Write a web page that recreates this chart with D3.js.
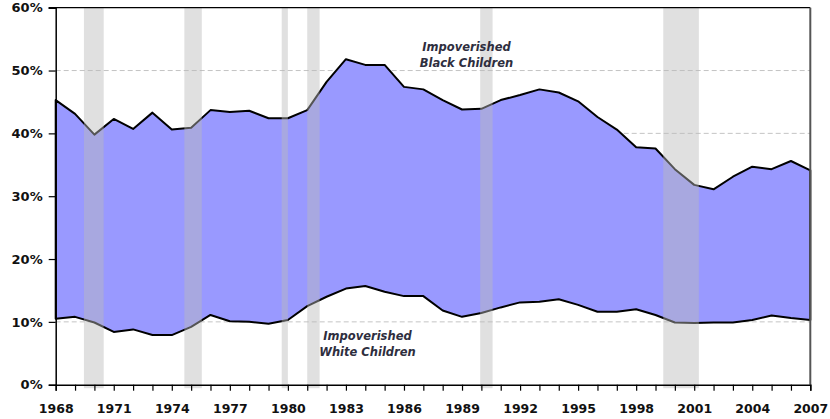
<!DOCTYPE html>
<html>
<head>
<meta charset="utf-8">
<script src="https://cdn.jsdelivr.net/npm/d3@7"></script>
<style>
  body { margin: 0; background: #fff; }
  svg { display: block; }
</style>
</head>
<body>
<svg id="chart"></svg>
<script>

// poverty rate of children by race, percent
var years = [1968, 1969, 1970, 1971, 1972, 1973, 1974, 1975, 1976, 1977,
             1978, 1979, 1980, 1981, 1982, 1983, 1984, 1985, 1986, 1987,
             1988, 1989, 1990, 1991, 1992, 1993, 1994, 1995, 1996, 1997,
             1998, 1999, 2000, 2001, 2002, 2003, 2004, 2005, 2006, 2007]

var blackKids = [45.3, 43.1, 39.8, 42.3, 40.7, 43.3, 40.6, 40.9, 43.7, 43.4,
                 43.6, 42.4, 42.4, 43.7, 48.2, 51.8, 50.9, 50.9, 47.4, 47.0,
                 45.3, 43.8, 43.9, 45.3, 46.1, 47.0, 46.5, 45.1, 42.6, 40.6,
                 37.8, 37.6, 34.3, 31.8, 31.1, 33.1, 34.7, 34.3, 35.6, 34.1]

var whiteKids = [10.5, 10.8, 9.9, 8.4, 8.8, 7.9, 7.9, 9.2, 11.1, 10.1,
                 10.0, 9.7, 10.3, 12.5, 14.0, 15.3, 15.7, 14.8, 14.1, 14.1,
                 11.8, 10.8, 11.4, 12.3, 13.1, 13.2, 13.6, 12.7, 11.6, 11.6,
                 12.0, 11.1, 9.9, 9.8, 9.9, 9.9, 10.3, 11.0, 10.6, 10.3]

// recession shading, start / end as fractional years
var recessions = [[1969.46, 1970.48], [1974.65, 1975.55], [1979.68, 1980.0],
                  [1981.0, 1981.64], [1989.94, 1990.58], [1999.4, 2001.24]]

var yTicks = [0, 10, 20, 30, 40, 50, 60]
var yearLabels = [1968, 1971, 1974, 1977, 1980, 1983, 1986, 1989, 1992, 1995, 1998, 2001, 2004, 2007]


function drawChart(){

    let width = 830
    let height = 419
    let margin = {top: 7.7, right: 19.7, bottom: 34.3, left: 55.7}

    const svg = d3.select('#chart')
        .attr("width", width)
        .attr("height", height)
        .style("font-family", "'DejaVu Sans', Verdana, sans-serif")

    const x = d3.scaleLinear()
        .domain([1968, 2007])
        .range([margin.left, width - margin.right])

    const y = d3.scaleLinear()
        .domain([0, 60])
        .range([height - margin.bottom, margin.top])

    const rows = years.map((yr, i) => ({year: yr, lo: whiteKids[i], hi: blackKids[i]}))

    // dashed grid
    svg.append("g")
        .selectAll("line")
        .data(yTicks.filter(t => t > 0 && t < 60))
        .enter()
        .append("line")
        .attr("x1", x.range()[0])
        .attr("x2", x.range()[1])
        .attr("y1", d => y(d))
        .attr("y2", d => y(d))
        .attr("stroke", "#c4c4c4")
        .attr("stroke-width", 1)
        .attr("stroke-dasharray", "5,3")

    // band between the two series
    const area = d3.area()
        .x(d => x(d.year))
        .y0(d => y(d.lo))
        .y1(d => y(d.hi))

    svg.append("path")
        .datum(rows)
        .attr("d", area)
        .attr("fill", "#9999ff")
        .attr("stroke", "#000")
        .attr("stroke-width", 2)
        .attr("stroke-linejoin", "round")

    // recession bars sit over the data
    svg.append("g")
        .selectAll("rect")
        .data(recessions)
        .enter()
        .append("rect")
        .attr("x", d => x(d[0]))
        .attr("width", d => x(d[1]) - x(d[0]))
        .attr("y", margin.top)
        .attr("height", y(0) - margin.top + 3.5)
        .attr("fill", "rgb(186,186,186)")
        .attr("fill-opacity", 0.45)

    // frame
    svg.append("line")
        .attr("x1", margin.left - 7).attr("x2", x(2007))
        .attr("y1", margin.top).attr("y2", margin.top)
        .attr("stroke", "#000").attr("stroke-width", 1.2)
    svg.append("line")
        .attr("x1", x(2007)).attr("x2", x(2007))
        .attr("y1", margin.top).attr("y2", y(0))
        .attr("stroke", "#555").attr("stroke-width", 2)

    // y axis
    const yAxis = svg.append("g")
        .attr("transform", `translate(${margin.left},0)`)
        .call(d3.axisLeft(y)
            .tickValues(yTicks)
            .tickSize(7)
            .tickPadding(6)
            .tickFormat(d => d + "%"))
    yAxis.select(".domain").attr("stroke", "#000").attr("stroke-width", 1.5)
    yAxis.selectAll(".tick line").attr("stroke", "#000").attr("stroke-width", 1.2)
    yAxis.selectAll("text")
        .attr("fill", "#111")
        .style("font-size", "13px")
        .style("font-weight", "bold")
        .style("font-family", "'DejaVu Sans', Verdana, sans-serif")

    // x axis, one tick per year, labels every third year
    const xAxis = svg.append("g")
        .attr("transform", `translate(0,${y(0)})`)
        .call(d3.axisBottom(x)
            .tickValues(years)
            .tickSize(6)
            .tickPadding(13)
            .tickFormat(d => yearLabels.includes(d) ? String(d) : ""))
    xAxis.select(".domain").attr("stroke", "#000").attr("stroke-width", 1.5)
    xAxis.selectAll(".tick line").attr("stroke", "#000").attr("stroke-width", 1.2)
    xAxis.selectAll("text")
        .attr("fill", "#111")
        .style("font-size", "12.5px")
        .style("font-weight", "bold")
        .style("font-family", "'DejaVu Sans', Verdana, sans-serif")

    // series labels
    const notes = [
        {x: 466.5, y: 51, lines: ["Impoverished", "Black Children"]},
        {x: 367.5, y: 340, lines: ["Impoverished", "White Children"]}
    ]
    notes.forEach(n => {
        const t = svg.append("text")
            .attr("x", n.x)
            .attr("y", n.y)
            .attr("text-anchor", "middle")
            .attr("fill", "#2e2e3e")
            .style("font-size", "11.5px")
            .style("font-weight", "bold")
            .style("font-style", "italic")
        n.lines.forEach((s, i) => {
            t.append("tspan")
                .attr("x", n.x)
                .attr("dy", i === 0 ? 0 : 16)
                .text(s)
        })
    })
}

window.onload = function(){
    drawChart()
}
</script>
</body>
</html>
